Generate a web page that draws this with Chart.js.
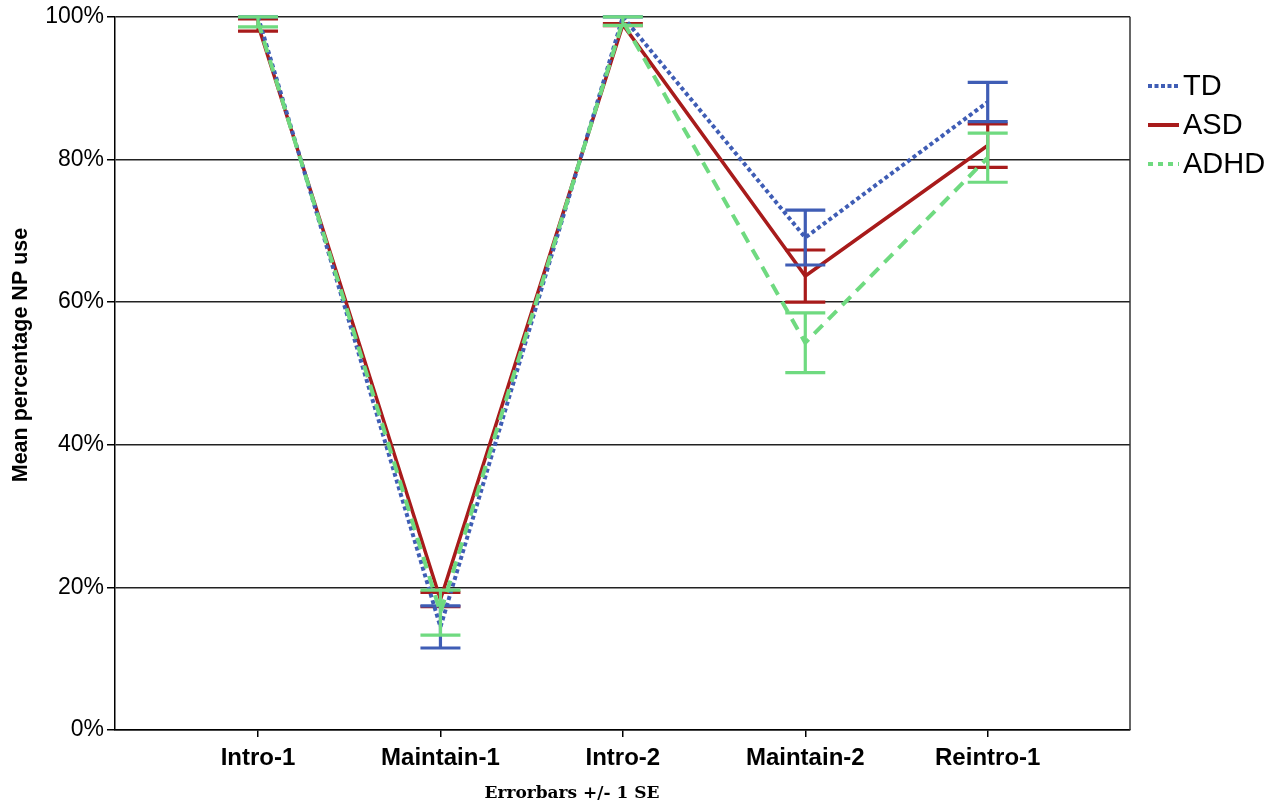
<!DOCTYPE html>
<html>
<head>
<meta charset="utf-8">
<script src="https://cdn.jsdelivr.net/npm/chart.js@4.4.1/dist/chart.umd.min.js"></script>
<style>
  html, body { margin: 0; padding: 0; background: #fff; }
  #wrap { width: 1274px; height: 805px; }
</style>
</head>
<body>
<div id="wrap"><canvas id="npChart"></canvas></div>
<script>
// categories and group means / standard errors (percent)
const categories = ['Intro-1', 'Maintain-1', 'Intro-2', 'Maintain-2', 'Reintro-1'];
const yTicks = [0, 20, 40, 60, 80, 100];

const tdMean = [100, 14.45, 100, 69.05, 88.05];
const tdSE = [0, 2.95, 0, 3.85, 2.75];
const asdMean = [98.85, 18.3, 98.9, 63.65, 81.95];
const asdSE = [0.85, 1.0, 0.15, 3.65, 3.05];
const adhdMean = [99.3, 16.45, 99.4, 54.3, 80.25];
const adhdSE = [0.7, 3.15, 0.6, 4.2, 3.45];

const groupLabels = ['TD', 'ASD', 'ADHD'];
const groupColours = ['#3f5db5', '#a81b1b', '#6fda80'];

function toPoints(means) {
    return means.map((v, i) => ({ x: i + 1, y: v }));
}

// error bars drawn right after each dataset so later groups sit on top
const errorBars = {
    id: 'errorBars',
    afterDatasetDraw(chart, args) {
        const ds = chart.data.datasets[args.index];
        const xs = chart.scales.x, ys = chart.scales.y;
        const ctx = chart.ctx;
        ctx.save();
        ctx.strokeStyle = ds.errColour;
        ctx.lineWidth = 3.2;
        ctx.setLineDash([]);
        ds.means.forEach((m, i) => {
            const px = xs.getPixelForValue(i + 1);
            const top = ys.getPixelForValue(m + ds.se[i]);
            const bot = ys.getPixelForValue(m - ds.se[i]);
            ctx.beginPath();
            ctx.moveTo(px, top); ctx.lineTo(px, bot);
            ctx.moveTo(px - 20, top); ctx.lineTo(px + 20, top);
            ctx.moveTo(px - 20, bot); ctx.lineTo(px + 20, bot);
            ctx.stroke();
        });
        ctx.restore();
    }
};

// right frame line, y title, legend and footnote
const extras = {
    id: 'extras',
    afterDraw(chart) {
        const ctx = chart.ctx;
        const a = chart.chartArea;
        ctx.save();
        ctx.strokeStyle = '#333';
        ctx.lineWidth = 1.5;
        ctx.beginPath();
        ctx.moveTo(a.right, a.top); ctx.lineTo(a.right, a.bottom);
        ctx.stroke();

        // y axis title (sits a little above the middle in the original)
        ctx.save();
        ctx.translate(21, 355);
        ctx.rotate(-Math.PI / 2);
        ctx.fillStyle = '#000';
        ctx.font = 'bold 21.5px "Liberation Sans", Arial, sans-serif';
        ctx.textAlign = 'center';
        ctx.textBaseline = 'middle';
        ctx.fillText('Mean percentage NP use', 0, 0);
        ctx.restore();

        // legend
        const rows = [86, 125, 164];
        chart.data.datasets.forEach((ds, i) => {
            ctx.strokeStyle = ds.borderColor;
            ctx.lineWidth = 4;
            ctx.setLineDash(ds.legendDash);
            ctx.beginPath();
            ctx.moveTo(1148, rows[i]); ctx.lineTo(1179, rows[i]);
            ctx.stroke();
            ctx.setLineDash([]);
            ctx.fillStyle = '#000';
            ctx.font = '29px "Liberation Sans", Arial, sans-serif';
            ctx.textBaseline = 'middle';
            ctx.textAlign = 'left';
            ctx.fillText(ds.label, 1183, rows[i] + 1);
        });

        ctx.fillStyle = '#000';
        ctx.font = 'bold 17px "DejaVu Serif", serif';
        ctx.textAlign = 'center';
        ctx.textBaseline = 'middle';
        ctx.fillText('Errorbars +/- 1 SE', 572, 794);
        ctx.restore();
    }
};

const ctx = document.getElementById('npChart').getContext('2d');
new Chart(ctx, {
    type: 'line',
    data: {
        datasets: [
            {
                label: groupLabels[0],
                data: toPoints(tdMean),
                means: tdMean,
                se: tdSE,
                errColour: groupColours[0],
                borderColor: groupColours[0],
                borderWidth: 4,
                borderDash: [4, 3],
                legendDash: [4, 2.5],
                order: 2
            },
            {
                label: groupLabels[1],
                data: toPoints(asdMean),
                means: asdMean,
                se: asdSE,
                errColour: groupColours[1],
                borderColor: groupColours[1],
                borderWidth: 3.5,
                borderDash: [],
                legendDash: [],
                order: 3
            },
            {
                label: groupLabels[2],
                data: toPoints(adhdMean),
                means: adhdMean,
                se: adhdSE,
                errColour: groupColours[2],
                borderColor: groupColours[2],
                borderWidth: 4,
                borderDash: [12, 8],
                legendDash: [5, 5],
                order: 1
            }
        ]
    },
    options: {
        responsive: true,
        maintainAspectRatio: false,
        animation: false,
        layout: { padding: { top: 14, right: 144, left: 0, bottom: 0 } },
        elements: { point: { radius: 0 }, line: { tension: 0, fill: false } },
        plugins: {
            legend: { display: false },
            tooltip: { enabled: false }
        },
        scales: {
            x: {
                type: 'linear',
                min: 0.216,
                max: 5.78,
                afterFit(s) { s.height = 75; },
                afterBuildTicks(s) { s.ticks = categories.map((c, i) => ({ value: i + 1 })); },
                ticks: {
                    autoSkip: false,
                    maxRotation: 0,
                    padding: 7,
                    color: '#000',
                    font: { family: '"Liberation Sans", Arial, sans-serif', size: 24, weight: 'bold' },
                    callback: v => categories[v - 1] || ''
                },
                grid: { drawOnChartArea: false, drawTicks: true, tickLength: 7, color: '#000', lineWidth: 1.5 },
                border: { display: true, color: '#000', width: 1.5 }
            },
            y: {
                min: 0,
                max: 100,
                afterFit(s) { s.width = 115; },
                afterBuildTicks(s) { s.ticks = yTicks.map(v => ({ value: v })); },
                ticks: {
                    padding: 3,
                    color: '#000',
                    font: { family: '"Liberation Sans", Arial, sans-serif', size: 23 },
                    callback: v => v + '%'
                },
                grid: { color: '#222', lineWidth: 1.5, tickLength: 8, tickColor: '#000' },
                border: { display: true, color: '#000', width: 1.5 }
            }
        }
    },
    plugins: [errorBars, extras]
});
</script>
</body>
</html>
